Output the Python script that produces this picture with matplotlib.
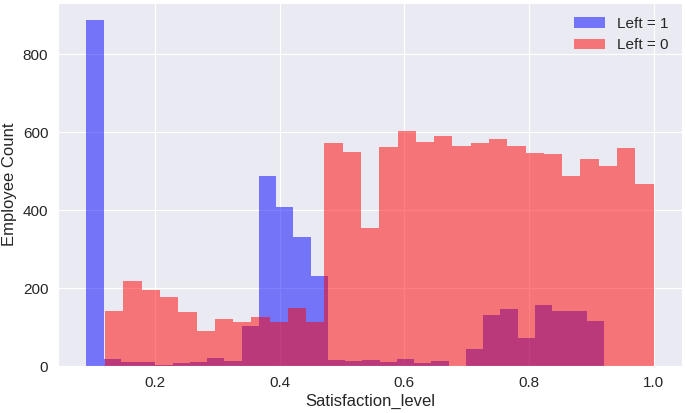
import matplotlib
matplotlib.use('Agg')
import matplotlib.pyplot as plt
import numpy as np
import seaborn as sns

# Employee counts per satisfaction bin (30 bins per group)
left_range = (0.09, 0.92)
left_counts = [887, 18, 9, 10, 3, 8, 10, 20, 12, 103,
               488, 408, 332, 230, 16, 12, 15, 11, 18, 8,
               12, 0, 44, 131, 146, 73, 156, 140, 140, 115]

stay_range = (0.12, 1.0)
stay_counts = [140, 218, 196, 177, 138, 89, 120, 112, 125, 114,
               150, 113, 572, 550, 355, 562, 603, 576, 590, 564,
               572, 582, 564, 547, 544, 488, 530, 514, 560, 466]

sns.set_style('darkgrid')
plt.rcParams['font.family'] = ['Liberation Sans', 'DejaVu Sans']

fig = plt.figure(figsize=(6.85, 4.13), dpi=100)
ax = fig.add_axes([0.0847, 0.1138, 0.9109, 0.8789])

left_edges = np.linspace(left_range[0], left_range[1], len(left_counts) + 1)
stay_edges = np.linspace(stay_range[0], stay_range[1], len(stay_counts) + 1)

# no edge lines on the bars
ax.hist(left_edges[:-1], bins=left_edges, weights=left_counts,
        color='blue', alpha=0.5, linewidth=0, edgecolor='none', label='Left = 1')
ax.hist(stay_edges[:-1], bins=stay_edges, weights=stay_counts,
        color='red', alpha=0.5, linewidth=0, edgecolor='none', label='Left = 0')

ax.set_xlabel('Satisfaction_level', fontsize=12, labelpad=3)
ax.set_ylabel('Employee Count', fontsize=12, labelpad=4)
ax.tick_params(labelsize=11)
ax.set_yticks([0, 200, 400, 600, 800])
ax.legend(loc='upper right', fontsize=11, frameon=False)

plt.savefig('out.png', dpi=100)
